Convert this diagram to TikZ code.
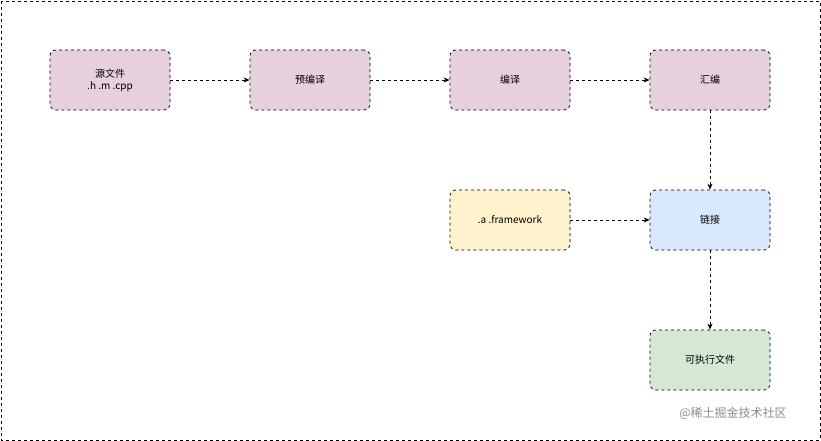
\documentclass[tikz,border=0pt]{standalone}
\usepackage{fontspec}
\setmainfont{Noto Sans CJK SC}
\usetikzlibrary{arrows.meta}
\definecolor{pinkf}{HTML}{E6D0DE}
\definecolor{yelf}{HTML}{FFF2CC}
\definecolor{bluef}{HTML}{DAE8FC}
\definecolor{greenf}{HTML}{D5E8D4}
\tikzset{
 box/.style={draw=black, line width=0.7pt, dash pattern=on 3pt off 3pt, rounded corners=6pt, minimum width=120pt, minimum height=60pt, align=center, font=\fontsize{10}{12}\selectfont, inner sep=2pt},
 conn/.style={draw=black, line width=0.7pt, dash pattern=on 3pt off 3pt, -{Stealth[length=6pt,width=5pt]}}
}
\begin{document}
\begin{tikzpicture}[x=1pt,y=-1pt]
\useasboundingbox (0,0) rectangle (821,441);
\draw[line width=0.7pt, dash pattern=on 3pt off 3pt] (1,1) rectangle (820,440);
\node[box, fill=pinkf] (src) at (110,80) {源文件\\.h .m .cpp};
\node[box, fill=pinkf] (pre) at (310,80) {预编译};
\node[box, fill=pinkf] (cmp) at (510,80) {编译};
\node[box, fill=pinkf] (asm) at (710,80) {汇编};
\node[box, fill=yelf] (lib) at (510,220) {.a .framework};
\node[box, fill=bluef] (lnk) at (710,220) {链接};
\node[box, fill=greenf] (exe) at (710,360) {可执行文件};
\draw[conn] (src) -- (pre);
\draw[conn] (pre) -- (cmp);
\draw[conn] (cmp) -- (asm);
\draw[conn] (asm) -- (lnk);
\draw[conn] (lib) -- (lnk);
\draw[conn] (lnk) -- (exe);
\node[text=black!45, font=\fontsize{12}{14}\selectfont] (wm) at (733,413) {@稀土掘金技术社区};
\end{tikzpicture}
\end{document}
